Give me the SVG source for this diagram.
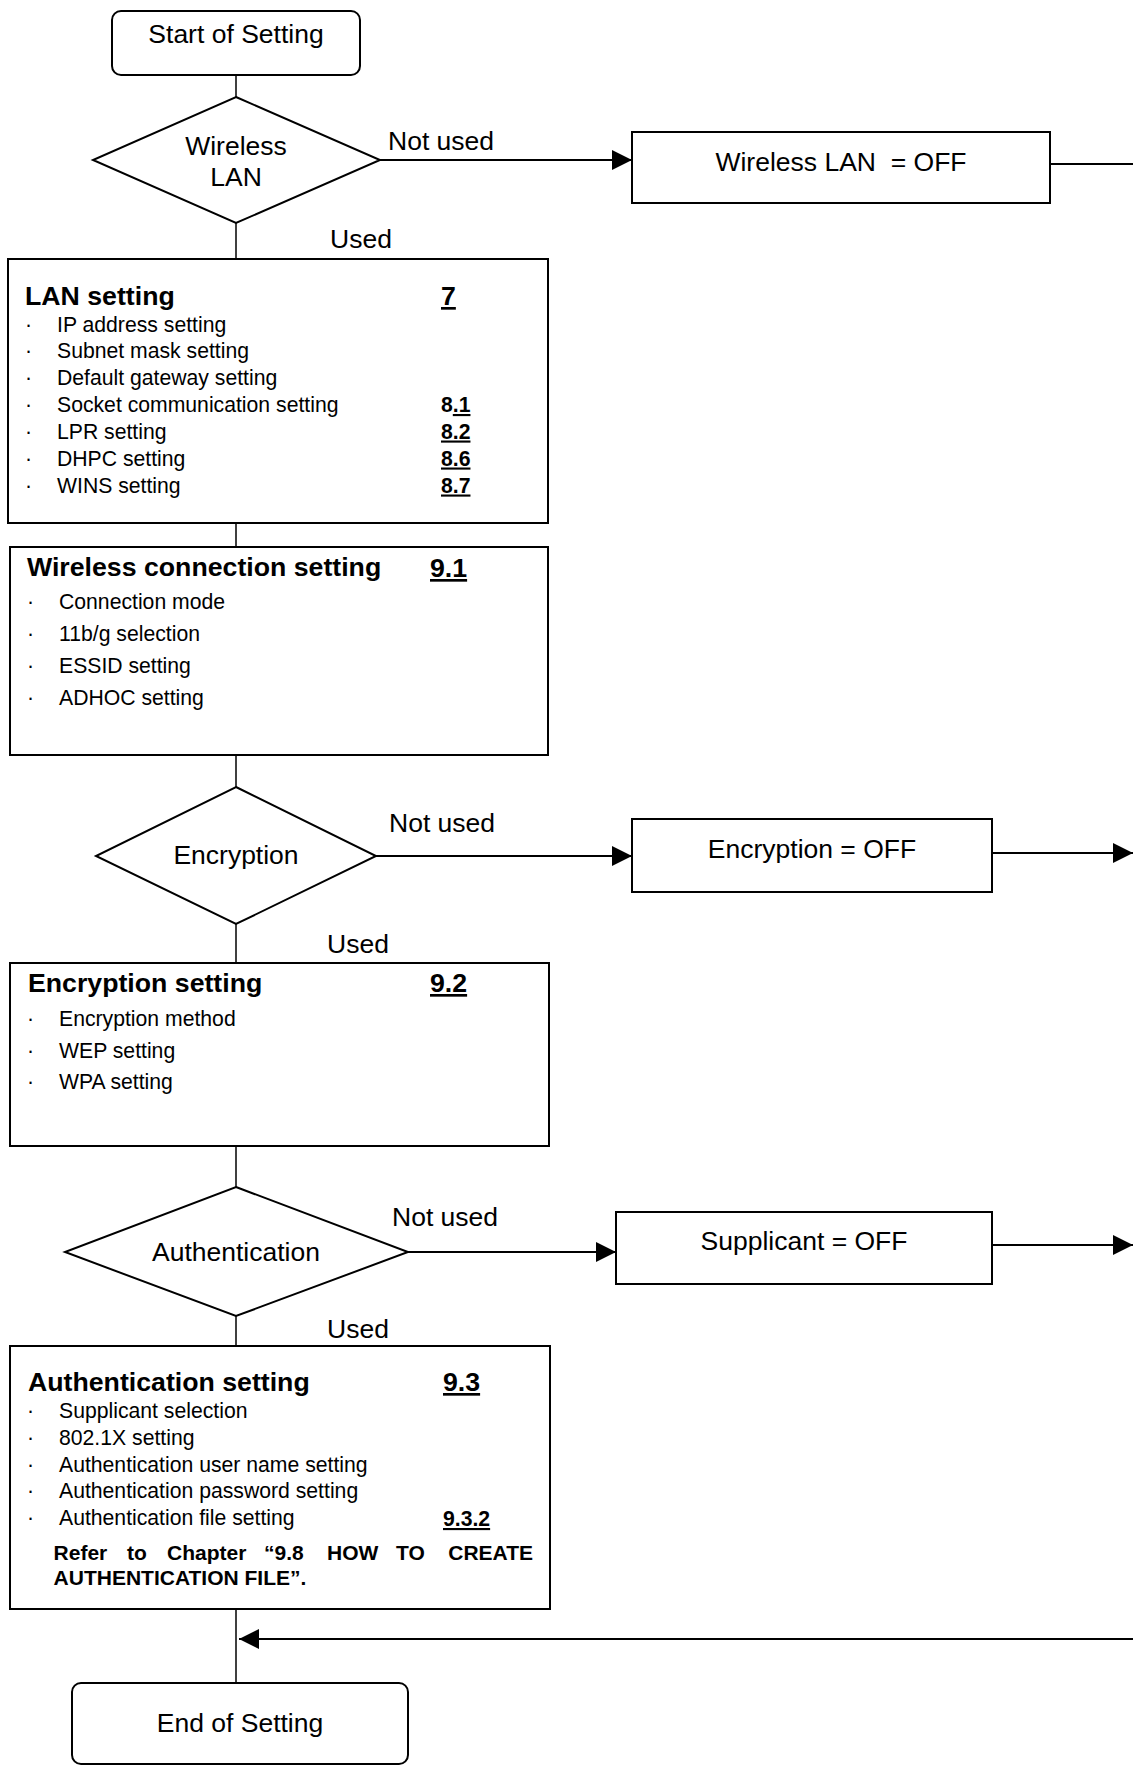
<svg xmlns="http://www.w3.org/2000/svg" width="1133" height="1767" viewBox="0 0 1133 1767">
<style>
text{font-family:"Liberation Sans",Arial,sans-serif;fill:#000}
.t26{font-size:26.5px}
.c{text-anchor:middle}
.h{font-size:26.7px;font-weight:bold}
.it{font-size:21.2px}
.n{font-size:21.2px;font-weight:bold}
.u{text-decoration:underline}
.r{font-size:21px;font-weight:bold}
.box{fill:#fff;stroke:#000;stroke-width:2}
.ln{fill:none;stroke:#000;stroke-width:2}
.lv{fill:none;stroke:#000;stroke-width:1.5}
</style>
<defs>
<marker id="ah" markerUnits="userSpaceOnUse" markerWidth="20" markerHeight="20" refX="20" refY="10" orient="auto" viewBox="0 0 20 20">
<path d="M0,0 L20,10 L0,20 z" fill="#000"/>
</marker>
</defs>
<rect width="1133" height="1767" fill="#fff"/>
<g id="connectors">
<line class="lv" x1="236" y1="75" x2="236" y2="97"/>
<line class="ln" x1="380" y1="160" x2="632" y2="160" marker-end="url(#ah)"/>
<line class="ln" x1="1050" y1="164" x2="1133" y2="164"/>
<line class="lv" x1="236" y1="223" x2="236" y2="259"/>
<line class="lv" x1="236" y1="523" x2="236" y2="547"/>
<line class="lv" x1="236" y1="755" x2="236" y2="787"/>
<line class="ln" x1="376" y1="856" x2="632" y2="856" marker-end="url(#ah)"/>
<line class="ln" x1="992" y1="853" x2="1133" y2="853" marker-end="url(#ah)"/>
<line class="lv" x1="236" y1="924" x2="236" y2="963"/>
<line class="lv" x1="236" y1="1146" x2="236" y2="1187"/>
<line class="ln" x1="408" y1="1252" x2="616" y2="1252" marker-end="url(#ah)"/>
<line class="ln" x1="992" y1="1245" x2="1133" y2="1245" marker-end="url(#ah)"/>
<line class="lv" x1="236" y1="1316" x2="236" y2="1346"/>
<line class="lv" x1="236" y1="1609" x2="236" y2="1683"/>
<line class="ln" x1="1133" y1="1639" x2="239" y2="1639" marker-end="url(#ah)"/>
<text class="t26" x="388" y="150">Not used</text>
<text class="t26" x="330" y="248">Used</text>
<text class="t26" x="389" y="832">Not used</text>
<text class="t26" x="327" y="953">Used</text>
<text class="t26" x="392" y="1226">Not used</text>
<text class="t26" x="327" y="1338">Used</text>
</g>
<g id="start">
<rect class="box" x="112" y="11" width="248" height="64" rx="9"/>
<text class="t26 c" x="236" y="43">Start of Setting</text>
</g>
<g id="d-wlan">
<polygon class="box" points="236,97 380,160 236,223 93,160"/>
<text class="t26 c" x="236" y="155">Wireless</text>
<text class="t26 c" x="236" y="186">LAN</text>
</g>
<g id="wlan-off">
<rect class="box" x="632" y="132" width="418" height="71"/>
<text class="t26 c" x="841" y="171" xml:space="preserve">Wireless LAN  = OFF</text>
</g>
<g id="lan">
<rect class="box" x="8" y="259" width="540" height="264"/>
<text class="h" x="25" y="305">LAN setting</text>
<text class="h u" x="441" y="305">7</text>
<text class="it" x="25" y="331.5">·</text><text class="it" x="57" y="331.5">IP address setting</text>
<text class="it" x="25" y="358">·</text><text class="it" x="57" y="358">Subnet mask setting</text>
<text class="it" x="25" y="385">·</text><text class="it" x="57" y="385">Default gateway setting</text>
<text class="it" x="25" y="412">·</text><text class="it" x="57" y="412">Socket communication setting</text>
<text class="it" x="25" y="439">·</text><text class="it" x="57" y="439">LPR setting</text>
<text class="it" x="25" y="465.5">·</text><text class="it" x="57" y="465.5">DHPC setting</text>
<text class="it" x="25" y="492.5">·</text><text class="it" x="57" y="492.5">WINS setting</text>
<text class="n" x="441" y="412">8<tspan class="u">.1</tspan></text>
<text class="n u" x="441" y="438.5">8.2</text>
<text class="n u" x="441" y="465.5">8.6</text>
<text class="n u" x="441" y="492.5">8.7</text>
</g>
<g id="wconn">
<rect class="box" x="10" y="547" width="538" height="208"/>
<text class="h" x="27" y="576">Wireless connection setting</text>
<text class="h u" x="430" y="577">9.1</text>
<text class="it" x="27" y="609">·</text><text class="it" x="59" y="609">Connection mode</text>
<text class="it" x="27" y="641">·</text><text class="it" x="59" y="641">11b/g selection</text>
<text class="it" x="27" y="673">·</text><text class="it" x="59" y="673">ESSID setting</text>
<text class="it" x="27" y="705">·</text><text class="it" x="59" y="705">ADHOC setting</text>
</g>
<g id="d-enc">
<polygon class="box" points="236,787 376,856 236,924 96,856"/>
<text class="t26 c" x="236" y="864">Encryption</text>
</g>
<g id="enc-off">
<rect class="box" x="632" y="819" width="360" height="73"/>
<text class="t26 c" x="812" y="858">Encryption = OFF</text>
</g>
<g id="enc">
<rect class="box" x="10" y="963" width="539" height="183"/>
<text class="h" x="28" y="992">Encryption setting</text>
<text class="h u" x="430" y="992">9.2</text>
<text class="it" x="27" y="1026">·</text><text class="it" x="59" y="1026">Encryption method</text>
<text class="it" x="27" y="1058">·</text><text class="it" x="59" y="1058">WEP setting</text>
<text class="it" x="27" y="1089">·</text><text class="it" x="59" y="1089">WPA setting</text>
</g>
<g id="d-auth">
<polygon class="box" points="236,1187 408,1252 236,1316 65,1252"/>
<text class="t26 c" x="236" y="1261">Authentication</text>
</g>
<g id="supp-off">
<rect class="box" x="616" y="1212" width="376" height="72"/>
<text class="t26 c" x="804" y="1250">Supplicant = OFF</text>
</g>
<g id="auth">
<rect class="box" x="10" y="1346" width="540" height="263"/>
<text class="h" x="28" y="1391">Authentication setting</text>
<text class="h u" x="443" y="1391">9.3</text>
<text class="it" x="27" y="1418">·</text><text class="it" x="59" y="1418">Supplicant selection</text>
<text class="it" x="27" y="1445">·</text><text class="it" x="59" y="1445">802.1X setting</text>
<text class="it" x="27" y="1471.5">·</text><text class="it" x="59" y="1471.5">Authentication user name setting</text>
<text class="it" x="27" y="1498">·</text><text class="it" x="59" y="1498">Authentication password setting</text>
<text class="it" x="27" y="1525">·</text><text class="it" x="59" y="1525">Authentication file setting</text>
<text class="n u" x="443" y="1526">9.3.2</text>
<text class="r" y="1560"><tspan x="53.6">Refer</tspan> <tspan x="127">to</tspan> <tspan x="167">Chapter</tspan> <tspan x="264">“9.8</tspan> <tspan x="327">HOW</tspan> <tspan x="396">TO</tspan></text>
<text class="r" x="533" y="1560" text-anchor="end">CREATE</text>
<text class="r" x="53.6" y="1585">AUTHENTICATION FILE”.</text>
</g>
<g id="end">
<rect class="box" x="72" y="1683" width="336" height="81" rx="9"/>
<text class="t26 c" x="240" y="1732">End of Setting</text>
</g>
</svg>
